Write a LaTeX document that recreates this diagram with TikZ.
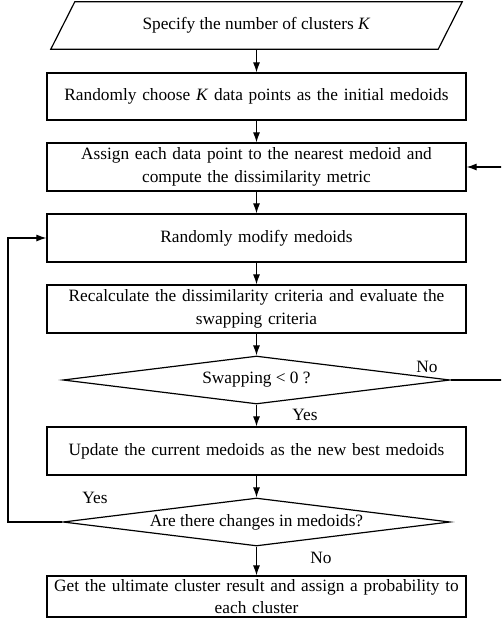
\documentclass[tikz,border=0pt]{standalone}
\usepackage{fontspec}
\setmainfont{Liberation Serif}
\usetikzlibrary{shapes.geometric,arrows.meta}
\begin{document}
\begin{tikzpicture}[x=1pt,y=-1pt,
  every node/.style={font=\fontsize{17.3}{22.5}\selectfont},
  procbox/.style={draw,line width=1.2pt,minimum width=419pt,text width=417pt,align=center,inner sep=0pt},
  decision/.style={draw,line width=1.2pt,shape=diamond,aspect=8,inner sep=0pt,minimum width=387pt,minimum height=48pt},
  conn/.style={line width=1.1pt,-{Latex[length=10pt,width=7pt]}},
  lbl/.style={inner sep=0pt}]
\clip (0,0) rectangle (501,621);
% input parallelogram
\node[minimum width=411pt,minimum height=47pt,inner sep=0pt] (p) at (256.5,25.5) {Specify the number of clusters \textit{K}};
\draw[line width=1.2pt] (p.south west) -- ([xshift=-24pt]p.south east) -- (p.north east) -- ([xshift=24pt]p.north west) -- cycle;
\node[procbox,minimum height=47pt] (b1) at (256.5,96.5) {Randomly choose \textit{K} data points as the initial medoids};
\node[procbox,minimum height=48pt] (b2) at (256.5,167) {Assign each data point to the nearest medoid and\\compute the dissimilarity metric};
\node[procbox,minimum height=48pt] (b3) at (256.5,238) {Randomly modify medoids};
\node[procbox,minimum height=48pt] (b4) at (256.5,309) {Recalculate the dissimilarity criteria and evaluate the\\swapping criteria};
\node[decision] (d1) at (256.5,380) {Swapping < 0 ?};
\node[procbox,minimum height=48pt] (b5) at (256.5,451) {Update the current medoids as the new best medoids};
\node[decision] (d2) at (256.5,522) {Are there changes in medoids?};
\node[procbox,minimum height=41pt] (b6) at (256.5,596.5) {Get the ultimate cluster result and assign a probability to\\each cluster};
% connectors
\coordinate (pb) at (p.south -| b1.north);
\draw[conn] (pb) -- (b1);
\draw[conn] (b1) -- (b2);
\draw[conn] (b2) -- (b3);
\draw[conn] (b3) -- (b4);
\draw[conn] (b4) -- (d1);
\draw[conn] (d1) -- (b5);
\draw[conn] (b5) -- (d2);
\draw[conn] (d2) -- (b6);
% right loop (No)
\coordinate (r1) at (505,380);
\coordinate (r2) at (505,167);
\draw[conn] (d1.east) -- (r1) -- (r2) -- (b2.east);
% left loop (Yes)
\coordinate (l1) at (8,522);
\coordinate (l2) at (8,238);
\draw[conn] (d2.west) -- (l1) -- (l2) -- (b3.west);
% labels
\node[lbl] (n1) at (427,367) {No};
\node[lbl] (y1) at (305,415) {Yes};
\node[lbl] (y2) at (95,498) {Yes};
\node[lbl] (n2) at (321,558) {No};
\end{tikzpicture}
\end{document}
